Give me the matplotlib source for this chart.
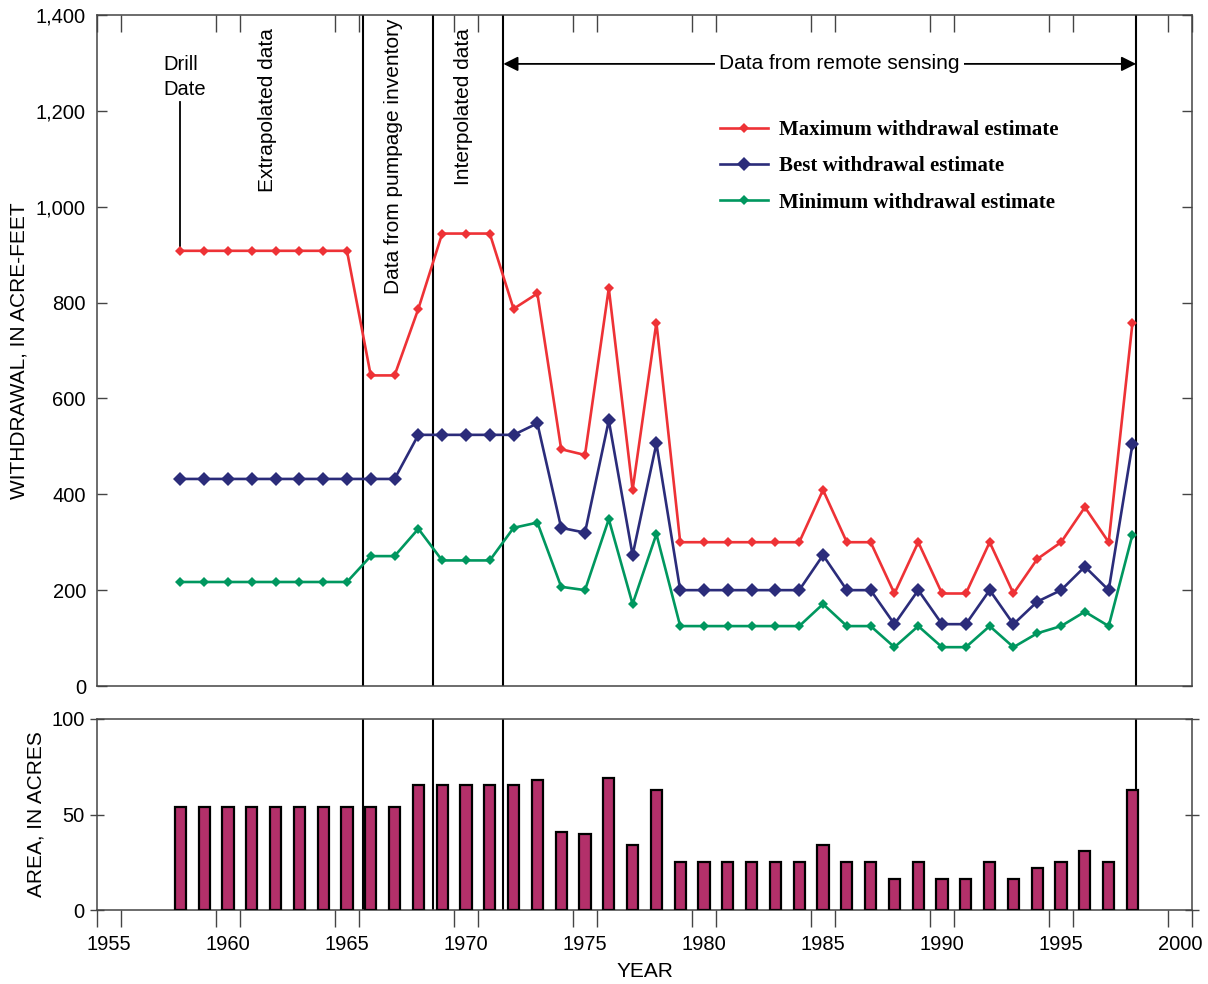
import matplotlib
matplotlib.use("Agg")
import matplotlib.pyplot as plt
from matplotlib.ticker import FuncFormatter, FixedLocator

# Withdrawal estimates (acre-feet) and irrigated area (acres), 1958-1998
years = list(range(1958, 1999))
max_est = [908] * 8 + [648, 648, 787] + [944] * 3 + [787, 819, 494, 482, 830, 409, 758] \
    + [300] * 6 + [409, 300, 300, 193, 300, 193, 193, 300, 193, 265, 300, 373, 300, 758]
best_est = [432] * 10 + [524] * 5 + [548, 330, 320, 554, 273, 506] \
    + [200] * 6 + [273, 200, 200, 129, 200, 129, 129, 200, 129, 176, 200, 249, 200, 505]
min_est = [217] * 8 + [271, 271, 328] + [262] * 3 + [330, 341, 207, 200, 348, 171, 317] \
    + [125] * 6 + [171, 125, 125, 81, 125, 81, 81, 125, 81, 110, 125, 155, 125, 316]
area = [54] * 10 + [65.6] * 5 + [68.2, 40.9, 40, 69, 34, 63] \
    + [25] * 6 + [34, 25, 25, 16, 25, 16, 16, 25, 16, 22, 25, 31, 25, 63]

period_breaks = [1965.67, 1968.63, 1971.57, 1998.15]
year_labels = list(range(1955, 2001, 5))

RED = "#EE3236"
BLUE = "#2B2C7A"
GREEN = "#00975F"
BAR = "#B3306A"

plt.rcParams["font.family"] = "Liberation Sans"
plt.rcParams["font.size"] = 14.5

fig = plt.figure(figsize=(12.08, 9.84), dpi=100)
ax = fig.add_axes([97 / 1208, 1 - 686 / 984, 1095 / 1208, 671 / 984])
ax2 = fig.add_axes([97 / 1208, 1 - 910 / 984, 1095 / 1208, 191 / 984])

for a in (ax, ax2):
    a.set_xlim(1954.5, 2000.5)
    for s in a.spines.values():
        s.set_color("#444444")
        s.set_linewidth(1.1)
    for x in period_breaks:
        a.axvline(x, color="black", lw=1.5, zorder=1)
    a.xaxis.set_major_locator(FixedLocator(year_labels))
    a.xaxis.set_minor_locator(FixedLocator([y + d for y in year_labels for d in (-0.5, 0.5)]))

# ---- top panel: withdrawal ----
ax.plot(years, max_est, color=RED, lw=1.9, marker="D", ms=4.8, mew=0,
        label="Maximum withdrawal estimate", zorder=3)
ax.plot(years, best_est, color=BLUE, lw=1.9, marker="D", ms=7, mew=0,
        label="Best withdrawal estimate", zorder=3)
ax.plot(years, min_est, color=GREEN, lw=1.9, marker="D", ms=5.4, mew=0,
        label="Minimum withdrawal estimate", zorder=3)

ax.set_ylim(0, 1400)
ax.set_yticks(range(0, 1401, 200))
ax.yaxis.set_major_formatter(FuncFormatter(lambda v, p: f"{int(v):,}"))
ax.tick_params(axis="y", direction="in", length=7, width=1, color="#444444",
               right=True, labelsize=14.5, pad=8)
ax.tick_params(axis="x", which="major", length=0, labelbottom=False)
ax.tick_params(axis="x", which="minor", direction="in", length=12, width=1,
               color="#444444", top=True, bottom=False)
ax.set_ylabel("WITHDRAWAL, IN ACRE-FEET", fontsize=15)
ax.yaxis.set_label_coords(-0.063, 0.5)

# annotations
ax.plot([1958, 1958], [1218, max_est[0]], color="black", lw=1.3, zorder=2)
ax.text(1957.3, 1316, "Drill\nDate", ha="left", va="top", fontsize=14.5, linespacing=1.4)
ax.text(1961.65, 1372, "Extrapolated data", rotation=90, ha="center", va="top", fontsize=15)
ax.text(1966.94, 1393, "Data from pumpage inventory", rotation=90, ha="center", va="top",
        fontsize=15)
ax.text(1969.9, 1372, "Interpolated data", rotation=90, ha="center", va="top", fontsize=15)
ax.annotate("", xy=(period_breaks[2], 1298), xytext=(period_breaks[3], 1298),
            arrowprops=dict(arrowstyle="<|-|>", color="black", lw=1.3,
                            mutation_scale=22, shrinkA=0, shrinkB=0))
ax.text(1985.7, 1298, "Data from remote sensing", ha="center", va="center", fontsize=15,
        bbox=dict(facecolor="white", edgecolor="none", pad=3))

fig.legend(loc="upper left", bbox_to_anchor=(720 / 1208, 1 - 120 / 984), frameon=False,
           borderpad=0, borderaxespad=0, handlelength=2.3, handletextpad=0.55,
           labelspacing=0.78, prop=dict(family="Liberation Serif", weight="bold", size=15))

# ---- bottom panel: area ----
ax2.bar(years, area, width=0.47, color=BAR, edgecolor="black", lw=1.6, zorder=3)
ax2.set_ylim(0, 100)
ax2.set_yticks([0, 50, 100])
ax2.tick_params(axis="y", direction="inout", length=10, width=1, color="#444444",
                labelsize=14.5, pad=4)
ax2.tick_params(axis="y", right=True)
ax2.tick_params(axis="x", which="major", length=0, labelsize=14.5, pad=18)
ax2.tick_params(axis="x", which="minor", direction="out", length=12, width=1, color="#444444")
ax2.set_ylabel("AREA, IN ACRES", fontsize=15)
ax2.yaxis.set_label_coords(-0.0466, 0.5)
ax2.set_xlabel("YEAR", fontsize=15, labelpad=6)

fig.savefig("out.png", dpi=100)
